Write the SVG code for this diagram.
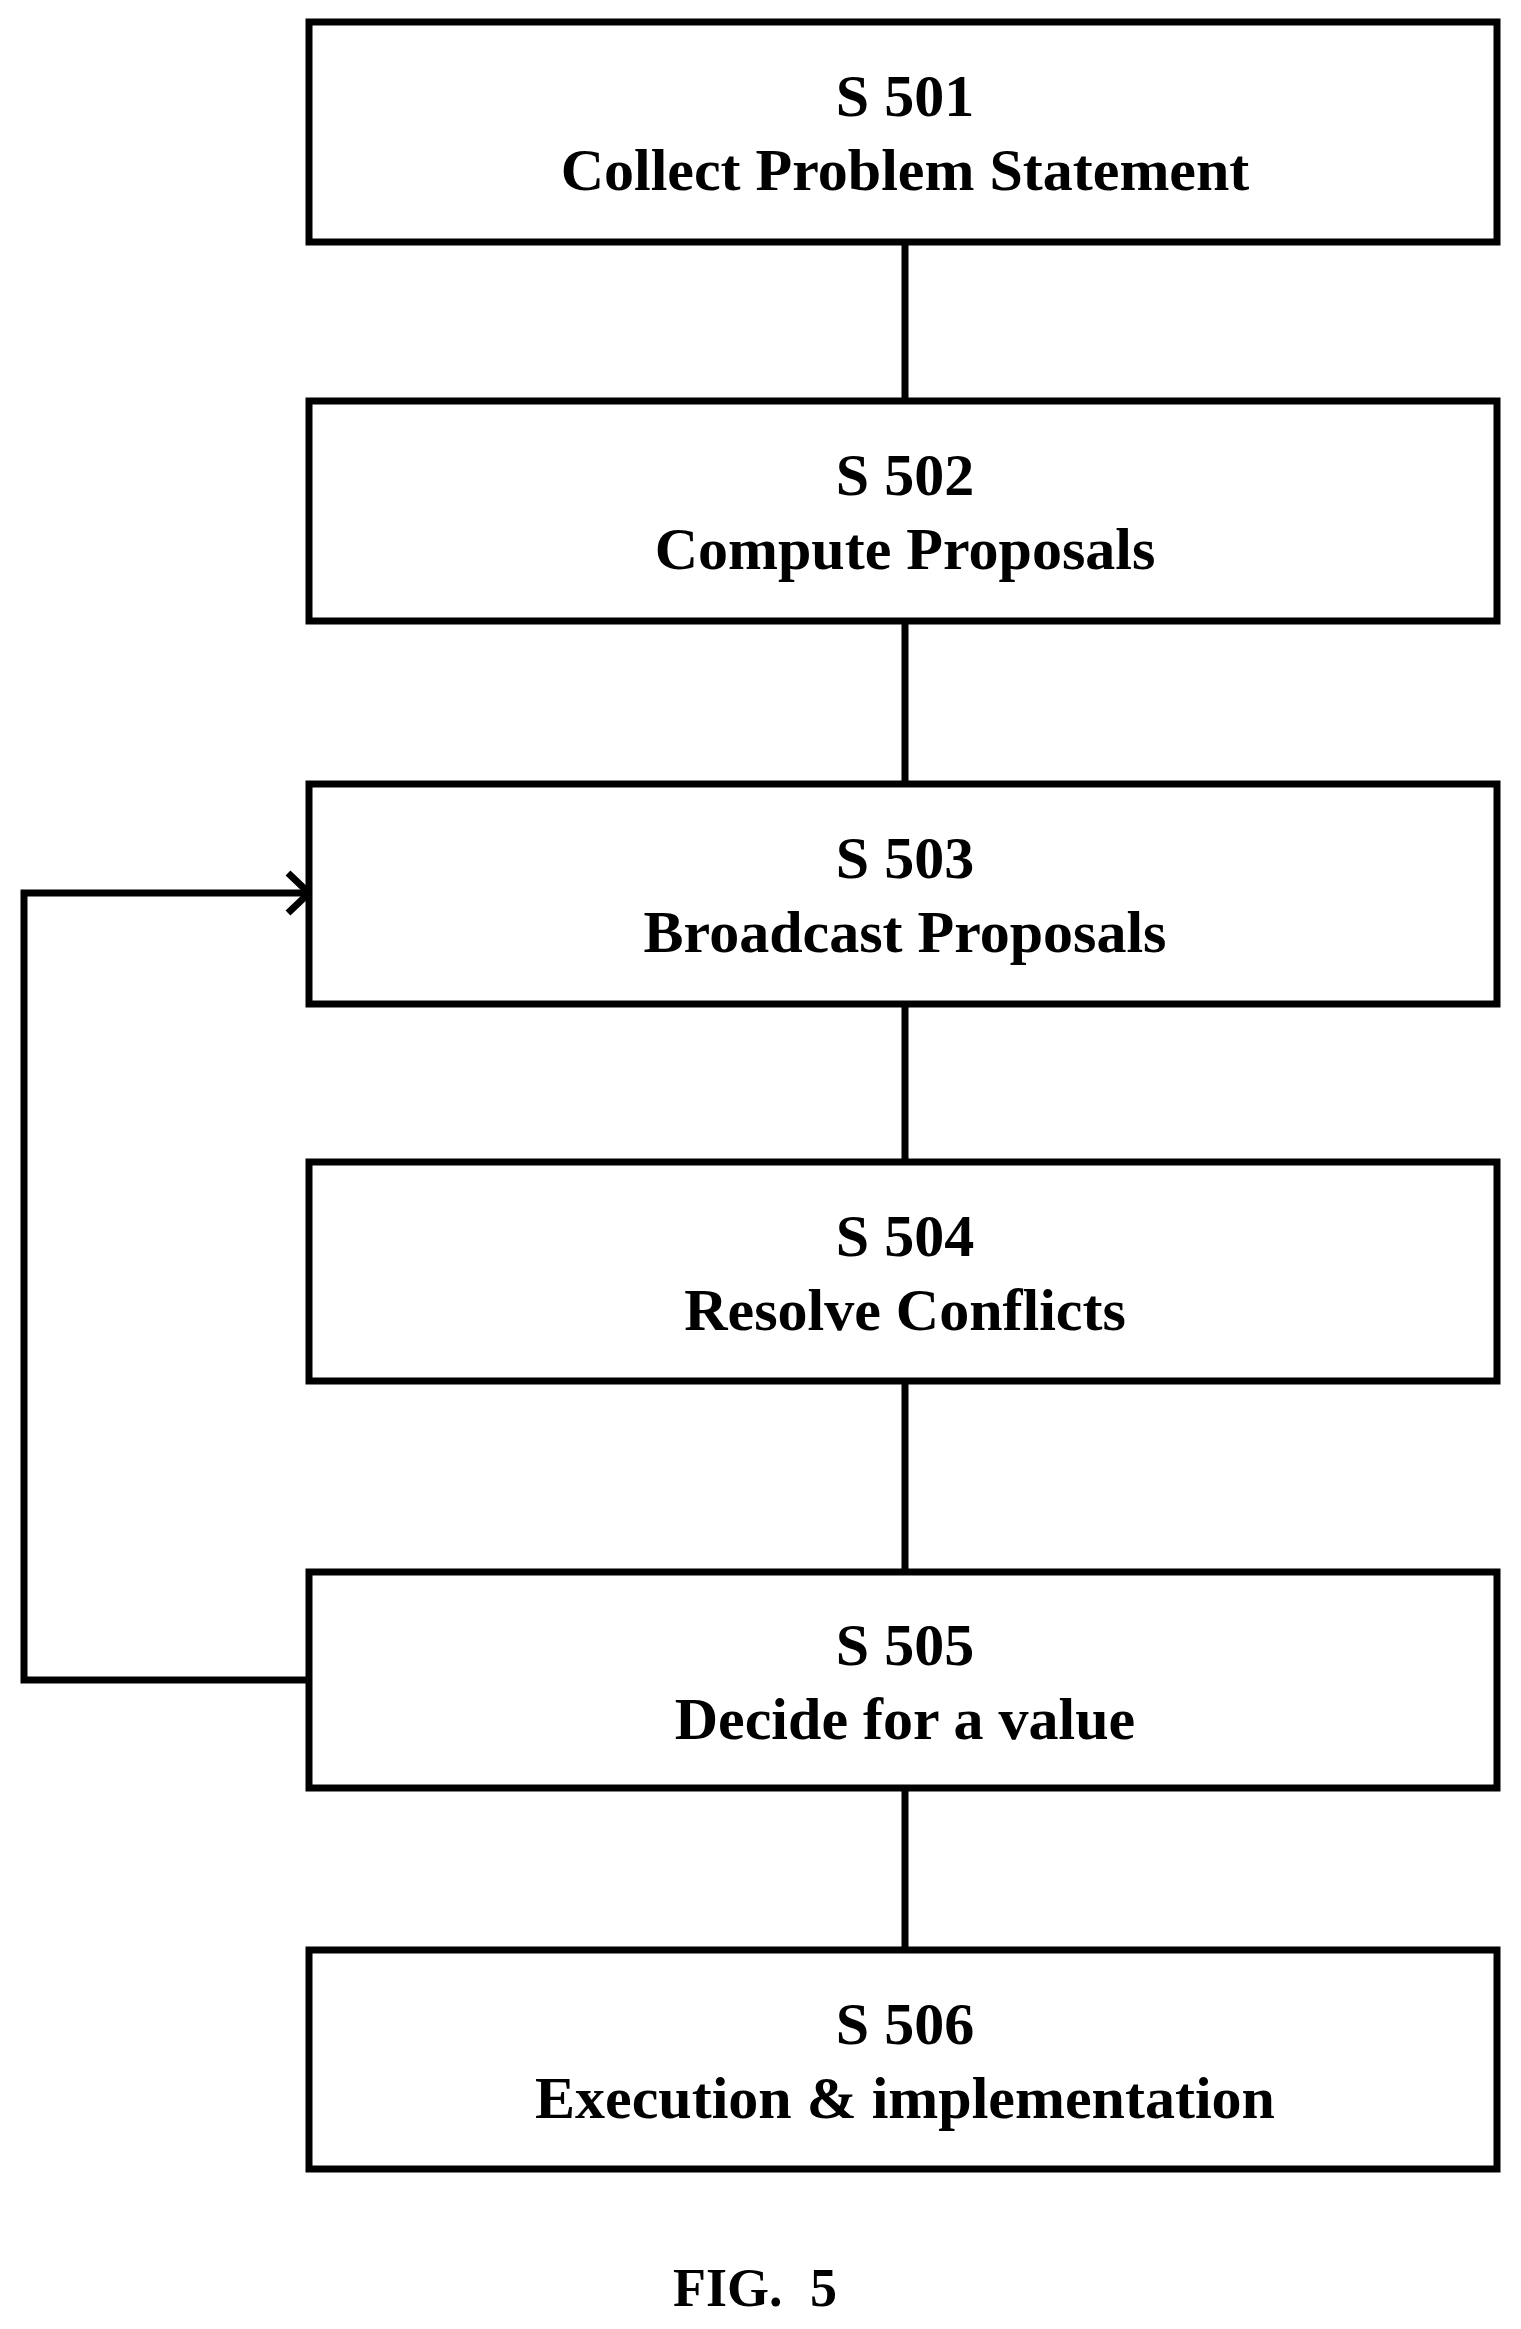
<svg xmlns="http://www.w3.org/2000/svg" width="1521" height="2329" viewBox="0 0 1521 2329">
<style>
.b{fill:#fff;stroke:#000;stroke-width:7}
.t{font-family:"Liberation Serif",serif;font-weight:bold;font-size:60px;text-anchor:middle}
.c{stroke:#000;stroke-width:7;fill:none}
</style>
<rect width="1521" height="2329" fill="#fff"/>
<g id="connectors">
<line class="c" x1="905" y1="242" x2="905" y2="401"/>
<line class="c" x1="905" y1="621" x2="905" y2="784"/>
<line class="c" x1="905" y1="1004" x2="905" y2="1162"/>
<line class="c" x1="905" y1="1381" x2="905" y2="1572"/>
<line class="c" x1="905" y1="1788" x2="905" y2="1950"/>
<polyline class="c" points="309,1680 24,1680 24,893 306,893"/>
<path class="c" d="M288,873 L309,893 L288,913"/>
</g>
<g id="s501"><rect class="b" x="309" y="22" width="1188" height="220"/><text class="t" x="905" y="116">S 501</text><text class="t" x="905" y="190">Collect Problem Statement</text></g>
<g id="s502"><rect class="b" x="309" y="401" width="1188" height="220"/><text class="t" x="905" y="495">S 502</text><text class="t" x="905" y="569">Compute Proposals</text></g>
<g id="s503"><rect class="b" x="309" y="784" width="1188" height="220"/><text class="t" x="905" y="878">S 503</text><text class="t" x="905" y="952">Broadcast Proposals</text></g>
<g id="s504"><rect class="b" x="309" y="1162" width="1188" height="219"/><text class="t" x="905" y="1256">S 504</text><text class="t" x="905" y="1330">Resolve Conflicts</text></g>
<g id="s505"><rect class="b" x="309" y="1572" width="1188" height="216"/><text class="t" x="905" y="1665">S 505</text><text class="t" x="905" y="1739">Decide for a value</text></g>
<g id="s506"><rect class="b" x="309" y="1950" width="1188" height="219"/><text class="t" x="905" y="2044">S 506</text><text class="t" x="905" y="2118">Execution &amp; implementation</text></g>
<text class="t" x="755" y="2306" style="font-size:54px;word-spacing:14px">FIG.  5</text>
</svg>
